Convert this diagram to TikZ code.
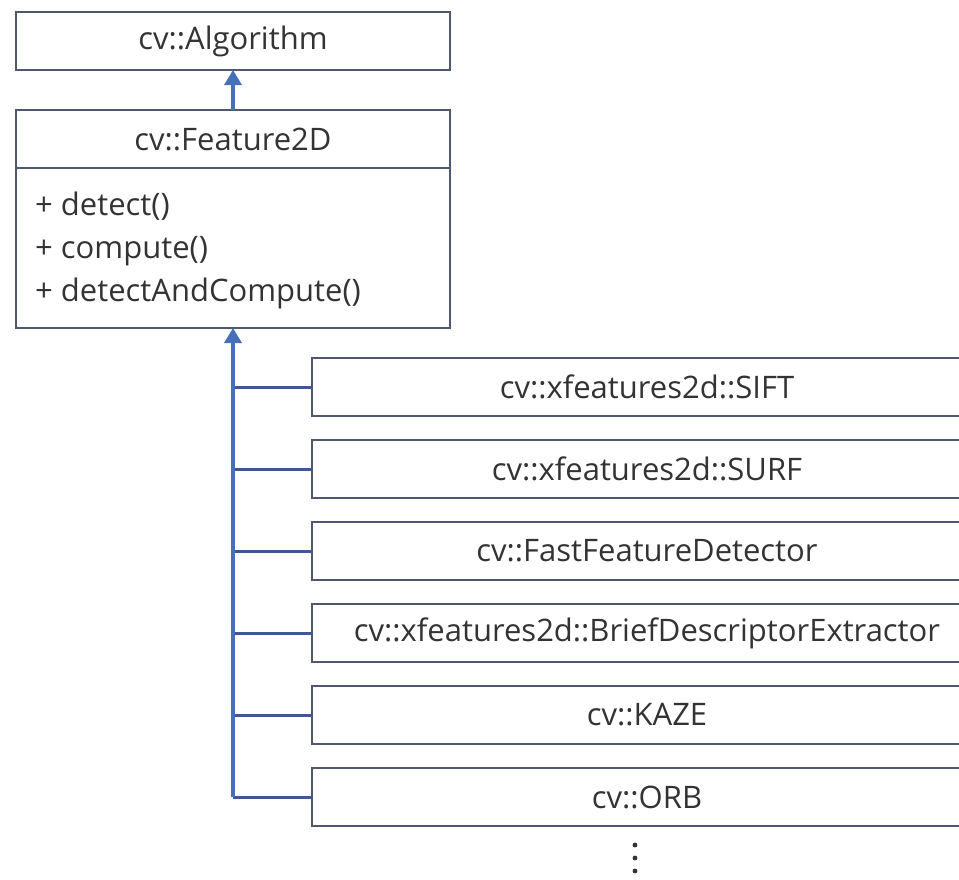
\documentclass[tikz,border=0pt]{standalone}
\usepackage{fontspec}
\setmainfont{Open Sans}
\usetikzlibrary{arrows.meta,positioning}

\definecolor{boxline}{HTML}{505870}
\definecolor{trunkblue}{HTML}{4670B8}
\definecolor{branchblue}{HTML}{3E5896}
\definecolor{txtgray}{HTML}{333333}

\begin{document}
\begin{tikzpicture}[x=1pt,y=-1pt,
    cls/.style={draw=boxline, line width=2pt, rectangle, inner sep=0pt, outer sep=0pt,
                text=txtgray, font=\fontsize{31}{36}\selectfont},
    sub/.style={cls, minimum width=670pt, minimum height=58pt},
    inherit/.style={draw=trunkblue, line width=3.5pt, -{Triangle[width=17pt,length=15pt]}},
    branch/.style={draw=branchblue, line width=3pt}]
    \useasboundingbox (0,0) rectangle (959,879);

    % base classes
    \node[cls, anchor=north west, minimum width=434pt, minimum height=58pt] (algo) at (16,12) {cv::Algorithm};
    \node[cls, anchor=north west, minimum width=434pt, minimum height=58pt] (f2d) at (16,110) {cv::Feature2D};
    \node[cls, anchor=north, minimum width=434pt, minimum height=160pt] (f2dops) at (f2d.south) {};
    \node[anchor=west, align=left, inner sep=0pt, text=txtgray,
          font=\fontsize{31}{43}\selectfont] (ops) at (35,250)
          {+ detect()\\+ compute()\\+ detectAndCompute()};

    % the derived classes
    \node[sub, anchor=north west] (sift) at (312,358) {cv::xfeatures2d::SIFT};
    \node[sub, below=24pt of sift] (surf) {cv::xfeatures2d::SURF};
    \node[sub, below=24pt of surf] (fast) {cv::FastFeatureDetector};
    \node[sub, below=24pt of fast] (brief) {cv::xfeatures2d::BriefDescriptorExtractor};
    \node[sub, below=24pt of brief] (kaze) {cv::KAZE};
    \node[sub, below=24pt of kaze] (orb) {cv::ORB};

    % the arrows
    \draw[inherit] (f2d.north) -- (algo.south);
    \foreach \n in {sift,surf,fast,brief,kaze,orb}
        \draw[branch] (\n.west) -- (\n.west -| f2dops.south);
    \draw[inherit, line width=4.5pt] (orb.west -| f2dops.south) -- (f2dops.south);

    % more classes
    \foreach \y in {845,858,871}
        \fill[txtgray] (635,\y) circle (2.4pt);
\end{tikzpicture}
\end{document}
